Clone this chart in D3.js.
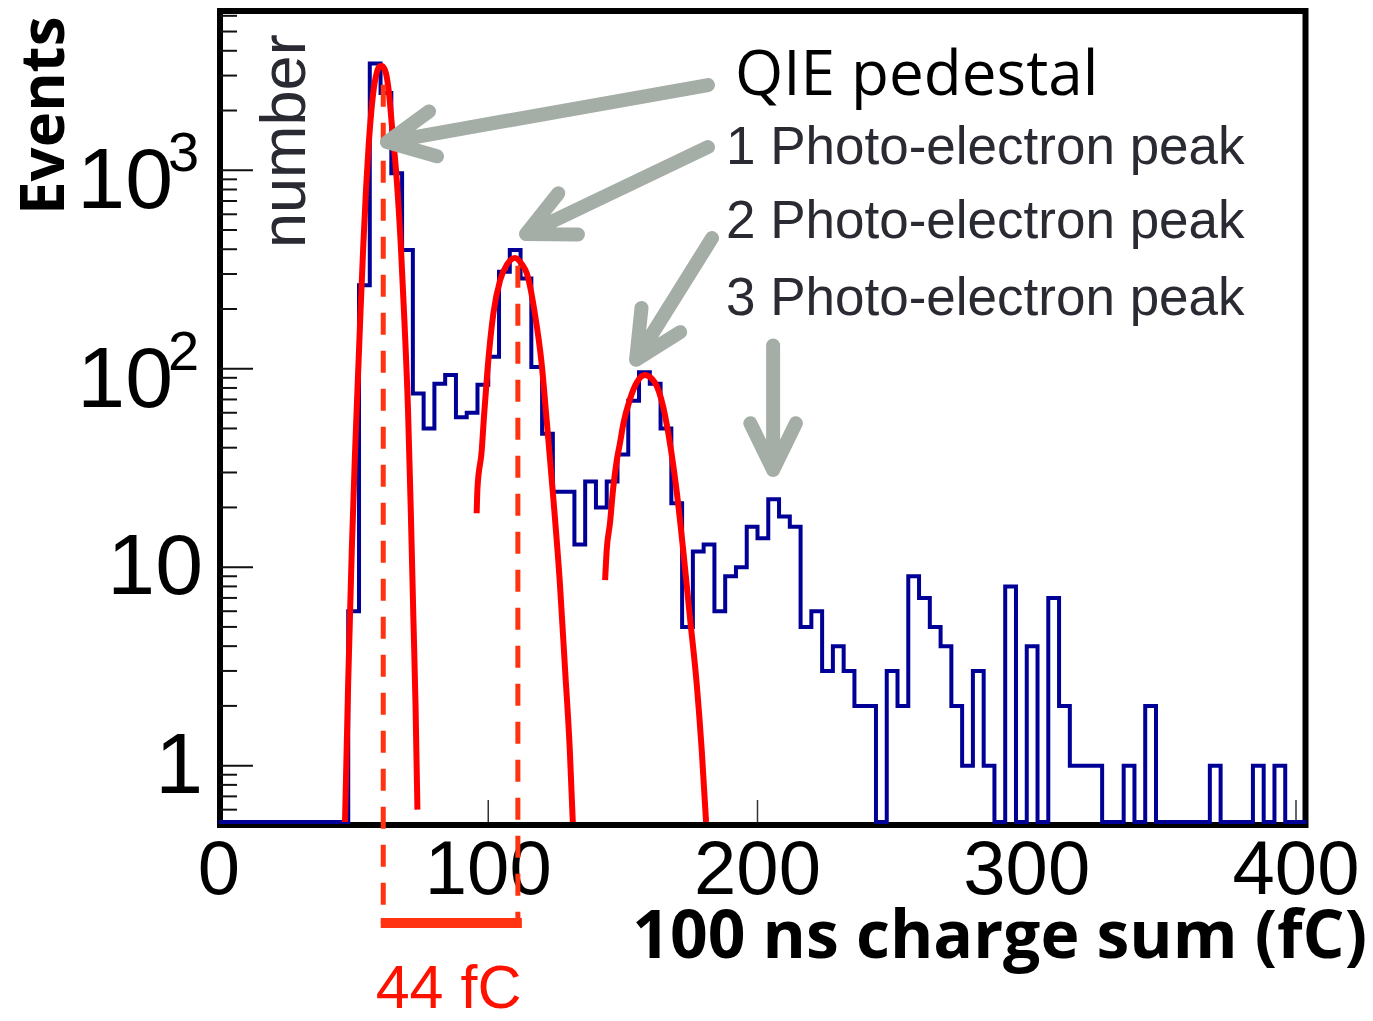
<!DOCTYPE html>
<html>
<head>
<meta charset="utf-8">
<script src="https://cdn.jsdelivr.net/npm/d3@7"></script>
<style>
  html, body { margin: 0; padding: 0; background: #ffffff; }
  svg { display: block; }
</style>
</head>
<body>
<svg id="chart" width="1373" height="1021"></svg>
<script>
// ---- Histogram: 100 ns charge sum, 4 fC bins starting at 0 fC ----
const binWidth = 4;
const binStart = 0;
const counts = [
  0, 0, 0, 0, 0, 0, 0, 0, 0, 0, 0, 0,          // 0 - 48 fC
  6, 263, 3450, 2450, 965, 396, 75, 50,        // 48 - 80
  84, 93, 57, 60, 83, 115, 308, 396,           // 80 - 112
  285, 102, 47, 24, 24, 13, 27, 20,            // 112 - 144
  27, 37, 69, 96, 84, 50, 21, 5,               // 144 - 176
  12, 13, 6, 9, 10, 16, 14, 22,                // 176 - 208
  18, 16, 5, 6, 3, 4, 3, 2,                    // 208 - 240
  2, 0, 3, 2, 9, 7, 5, 4,                      // 240 - 272
  2, 1, 3, 1, 0, 8, 0, 4,                      // 272 - 304
  0, 7, 2, 1, 1, 1, 0, 0,                      // 304 - 336
  1, 0, 2, 0, 0, 0, 0, 0,                      // 336 - 368
  1, 0, 0, 0, 1, 0, 1, 0,                      // 368 - 400
  0                                            // 400 - 404
];

// ---- Gaussian fits, sampled as [charge (fC), events] ----
const pedestalFit = [
  [46.8, 0.52], [48.0, 2.7], [49.3, 12], [50.5, 37], [51.6, 90], [52.6, 200],
  [53.6, 420], [54.6, 800], [55.6, 1350], [56.6, 2000], [57.6, 2650], [58.6, 3100],
  [59.6, 3330], [60.4, 3350], [61.4, 3250], [62.4, 2900], [63.2, 2400], [64.1, 1750],
  [66.0, 900], [67.6, 400], [68.9, 170], [70.2, 62], [71.2, 20], [72.2, 5.5],
  [73.0, 2.0], [73.7, 0.6]
];
const onePeFit = [
  [95.7, 18.7], [96.0, 25], [97.6, 39], [98.4, 57], [99.7, 98], [101.9, 190],
  [104.4, 279], [107.0, 336], [109.9, 361], [112.5, 336], [114.3, 303], [117.3, 190],
  [119.8, 107], [121.7, 55], [124.2, 22], [126.6, 8.3], [128.5, 3.1], [130.3, 1.19],
  [131.4, 0.52]
];
const twoPeFit = [
  [143.4, 8.6], [144.0, 12.2], [145.2, 16.6], [146.4, 25], [147.8, 35], [148.9, 42],
  [150.2, 53], [152.6, 70], [155.1, 85], [158.2, 93], [161.9, 85], [165.0, 64],
  [167.5, 42], [170.0, 24], [172.4, 12.2], [174.9, 5.6], [177.4, 2.6], [179.3, 1.19],
  [180.9, 0.52]
];

// ---- Peak position markers (fC) and the height where each marker starts ----
const peakMeans = [61, 111];
const peakTops = [2700, 330];
const spacingLabel = "44 fC";

// ---- Axes ----
const xTickValues = [0, 100, 200, 300, 400];
const yTickLabels = [
  { value: 1, base: "1", exp: "" },
  { value: 10, base: "10", exp: "" },
  { value: 100, base: "10", exp: "2" },
  { value: 1000, base: "10", exp: "3" }
];
const xTitle = "100 ns charge sum (fC)";
const yTitle = "Events";
const ySubTitle = "number";

// ---- Peak callouts: arrow tip and tail in (fC, events) ----
const calloutTexts = ["QIE pedestal", "1 Photo-electron peak", "2 Photo-electron peak", "3 Photo-electron peak"];
const calloutTips = [[62.4, 1387], [114.0, 477], [154.9, 111], [205.8, 30.9]];
const calloutTails = [[181.6, 2686], [181.6, 1309], [183.1, 455], [205.8, 131]];

// ===================================================================
const svg = d3.select("#chart");

const xMin = 0, xMax = 404;
const yMin = 0.52, yMax = 6200;
const plot = { left: 219, right: 219 + 404 * 2.6925, top: 13, bottom: 822 };

const x = d3.scaleLinear().domain([xMin, xMax]).range([plot.left, plot.right]);
const y = d3.scaleLog().domain([yMin, yMax]).range([plot.bottom, plot.top]);

const sansFont = "'Liberation Sans', Arial, Helvetica, sans-serif";
const humanistFont = "'Open Sans', 'DejaVu Sans', sans-serif";

// Frame
svg.append("rect")
  .attr("x", 220).attr("y", 11)
  .attr("width", 1305.5 - 220).attr("height", 825 - 11)
  .attr("fill", "none").attr("stroke", "#000").attr("stroke-width", 6);

// Y ticks (log): major at decades, minor at 2..9
const yMinor = [];
for (let e = -1; e <= 3; e++) {
  for (let m = 2; m <= 9; m++) {
    const v = m * Math.pow(10, e);
    if (v > yMin && v < yMax) yMinor.push(v);
  }
}
const yAxisG = svg.append("g");
yAxisG.selectAll("line.minor").data(yMinor).join("line")
  .attr("x1", 220).attr("x2", 237)
  .attr("y1", d => y(d)).attr("y2", d => y(d))
  .attr("stroke", "#111").attr("stroke-width", 2);
yAxisG.selectAll("line.major").data(yTickLabels).join("line")
  .attr("x1", 220).attr("x2", 253)
  .attr("y1", d => y(d.value)).attr("y2", d => y(d.value))
  .attr("stroke", "#111").attr("stroke-width", 2);

// X ticks
svg.append("g").selectAll("line").data(xTickValues.filter(v => v > xMin)).join("line")
  .attr("x1", d => x(d)).attr("x2", d => x(d))
  .attr("y1", plot.bottom).attr("y2", plot.bottom - 22)
  .attr("stroke", "#333").attr("stroke-width", 1.5);

// Y tick labels
const yl = svg.append("g").attr("font-family", sansFont).attr("fill", "#000");
yTickLabels.forEach(t => {
  if (t.exp) {
    yl.append("text").attr("x", 173).attr("y", y(t.value) + 38)
      .attr("text-anchor", "end").attr("font-size", 86).text(t.base);
    yl.append("text").attr("x", 168).attr("y", y(t.value) + 1)
      .attr("font-size", 56).text(t.exp);
  } else {
    yl.append("text").attr("x", 203).attr("y", y(t.value) + 27)
      .attr("text-anchor", "end").attr("font-size", 86).text(t.base);
  }
});

// X tick labels
svg.append("g").selectAll("text").data(xTickValues).join("text")
  .attr("x", d => x(d)).attr("y", 894)
  .attr("text-anchor", "middle")
  .attr("font-family", sansFont).attr("font-size", 76).attr("fill", "#000")
  .text(d => d);

// Axis titles
svg.append("text")
  .attr("x", 1367).attr("y", 958).attr("text-anchor", "end")
  .attr("font-family", humanistFont).attr("font-weight", 700).attr("font-size", 66)
  .attr("fill", "#000").text(xTitle);

svg.append("text")
  .attr("transform", "translate(64,215) rotate(-90)")
  .attr("font-family", humanistFont).attr("font-weight", 700).attr("font-size", 60)
  .attr("fill", "#000").text(yTitle);

svg.append("text")
  .attr("transform", "translate(305,248) rotate(-90)")
  .attr("font-family", sansFont).attr("font-size", 63)
  .attr("fill", "#2a2a33").text(ySubTitle);

// Histogram outline
const histPts = counts.map((c, i) => [binStart + i * binWidth, Math.max(c, yMin)]);
histPts.push([binStart + counts.length * binWidth, Math.max(counts[counts.length - 1], yMin)]);
const histLine = d3.line()
  .x(d => x(Math.min(d[0], xMax)))
  .y(d => y(d[1]))
  .curve(d3.curveStepAfter);
svg.append("path")
  .attr("d", histLine(histPts))
  .attr("fill", "none").attr("stroke", "#000096").attr("stroke-width", 4)
  .attr("stroke-linejoin", "miter");

// Fit curves
const fitLine = d3.line()
  .x(d => x(d[0]))
  .y(d => y(d[1]))
  .curve(d3.curveMonotoneX);
[pedestalFit, onePeFit, twoPeFit].forEach(f => {
  svg.append("path")
    .attr("d", fitLine(f))
    .attr("fill", "none").attr("stroke", "#ff0000").attr("stroke-width", 6)
    .attr("stroke-linejoin", "round");
});

// Peak markers with spacing bracket
const bracketY = 923;
const markColor = "#ff3311";
peakMeans.forEach((m, i) => {
  svg.append("line")
    .attr("x1", x(m)).attr("x2", x(m))
    .attr("y1", y(peakTops[i])).attr("y2", bracketY)
    .attr("stroke", markColor).attr("stroke-width", 5)
    .attr("stroke-dasharray", "22,16");
});
svg.append("line")
  .attr("x1", x(peakMeans[0]) - 2.5).attr("x2", x(peakMeans[1]) + 4)
  .attr("y1", bracketY).attr("y2", bracketY)
  .attr("stroke", markColor).attr("stroke-width", 10);
svg.append("text")
  .attr("x", (x(peakMeans[0]) + x(peakMeans[1])) / 2 - 2).attr("y", 1008)
  .attr("text-anchor", "middle")
  .attr("font-family", sansFont).attr("font-size", 61).attr("fill", "#ff1100")
  .text(spacingLabel);

// Callout arrows
const arrowColor = "#a5ada7";
const spread = 26 * Math.PI / 180, headLen = 52;
calloutTips.forEach((tip, i) => {
  const tx = x(tip[0]), ty = y(tip[1]);
  const sx = x(calloutTails[i][0]), sy = y(calloutTails[i][1]);
  const ang = Math.atan2(sy - ty, sx - tx);
  const p1 = [tx + headLen * Math.cos(ang - spread), ty + headLen * Math.sin(ang - spread)];
  const p2 = [tx + headLen * Math.cos(ang + spread), ty + headLen * Math.sin(ang + spread)];
  const p = d3.path();
  p.moveTo(sx, sy); p.lineTo(tx, ty);
  p.moveTo(p1[0], p1[1]); p.lineTo(tx, ty); p.lineTo(p2[0], p2[1]);
  svg.append("path").attr("d", p.toString())
    .attr("fill", "none").attr("stroke", arrowColor).attr("stroke-width", 14)
    .attr("stroke-linecap", "round").attr("stroke-linejoin", "round");
});

// Callout texts
svg.append("text")
  .attr("x", 735).attr("y", 95)
  .attr("font-family", humanistFont).attr("font-size", 62).attr("fill", "#000")
  .text(calloutTexts[0]);
[164, 238, 315].forEach((by, i) => {
  svg.append("text")
    .attr("x", 726).attr("y", by)
    .attr("font-family", sansFont).attr("font-size", 53).attr("fill", "#2a2a33")
    .text(calloutTexts[i + 1]);
});
</script>
</body>
</html>
